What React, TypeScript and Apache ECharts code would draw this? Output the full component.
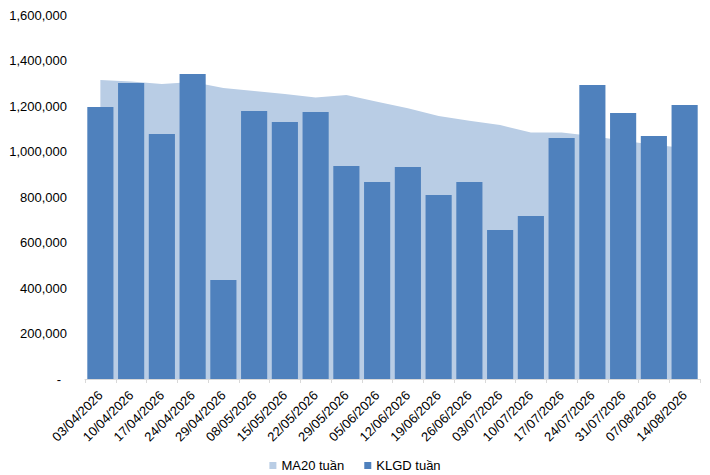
import React, { useEffect, useRef } from "react";
import * as echarts from "echarts";

const categories = [
  "03/04/2026", "10/04/2026", "17/04/2026", "24/04/2026", "29/04/2026",
  "08/05/2026", "15/05/2026", "22/05/2026", "29/05/2026", "05/06/2026",
  "12/06/2026", "19/06/2026", "26/06/2026", "03/07/2026", "10/07/2026",
  "17/07/2026", "24/07/2026", "31/07/2026", "07/08/2026", "14/08/2026",
];

const klgdTuan = [
  1196000, 1301000, 1077000, 1341000, 435000,
  1178000, 1130000, 1174000, 936000, 866000,
  932000, 809000, 866000, 655000, 716000,
  1059000, 1292000, 1169000, 1068000, 1204000,
];

const ma20Tuan = [
  1314000, 1308000, 1297000, 1305000, 1279000,
  1266000, 1253000, 1237000, 1248000, 1219000,
  1190000, 1156000, 1135000, 1116000, 1083000,
  1084000, 1068000, 1047000, 1030000, 1015000,
];

const seriesNames = ["MA20 tuần", "KLGD tuần"];

export default function App() {
  const ref = useRef<HTMLDivElement>(null);

  useEffect(() => {
    document.body.style.margin = "0";
    if (!ref.current) return;
    const chart = echarts.init(ref.current, null, { renderer: "svg" });
    const font = "Liberation Sans, Arial, sans-serif";
    chart.setOption({
      animation: false,
      backgroundColor: "#ffffff",
      textStyle: { fontFamily: font },
      grid: { left: 85, right: 10, top: 15, bottom: 96, containLabel: false },
      legend: {
        bottom: 3,
        left: "center",
        padding: 0,
        itemWidth: 7,
        itemHeight: 7,
        itemGap: 20,
        icon: "rect",
        textStyle: { fontFamily: font, fontSize: 13, color: "#000000" },
        data: seriesNames,
      },
      xAxis: {
        type: "category",
        data: categories,
        boundaryGap: true,
        axisLine: { show: true, lineStyle: { color: "#D9D9D9", width: 1 } },
        axisTick: { show: true, alignWithLabel: false, length: 4, lineStyle: { color: "#D9D9D9" } },
        axisLabel: {
          rotate: 45,
          interval: 0,
          margin: 14,
          fontFamily: font,
          fontSize: 13,
          color: "#000000",
        },
        splitLine: { show: false },
      },
      yAxis: {
        type: "value",
        min: 0,
        max: 1600000,
        interval: 200000,
        axisLine: { show: false },
        axisTick: { show: false },
        splitLine: { show: false },
        axisLabel: {
          margin: 18,
          fontFamily: font,
          fontSize: 13,
          color: "#000000",
          formatter: (v: number) => (v === 0 ? "{z|-}" : v.toLocaleString("en-US")),
          rich: {
            z: { fontFamily: font, fontSize: 13, color: "#000000", padding: [0, 6, 0, 0] },
          },
        },
      },
      series: [
        {
          name: seriesNames[0],
          type: "line",
          data: ma20Tuan,
          symbol: "none",
          itemStyle: { color: "#B9CDE5" },
          lineStyle: { width: 0, color: "#B9CDE5" },
          areaStyle: { color: "#B9CDE5", opacity: 1 },
          z: 1,
        },
        {
          name: seriesNames[1],
          type: "bar",
          data: klgdTuan,
          barCategoryGap: "15%",
          itemStyle: { color: "#4F81BD" },
          z: 3,
        },
      ],
    });
    return () => chart.dispose();
  }, []);

  return <div ref={ref} style={{ width: 710, height: 475 }} />;
}
